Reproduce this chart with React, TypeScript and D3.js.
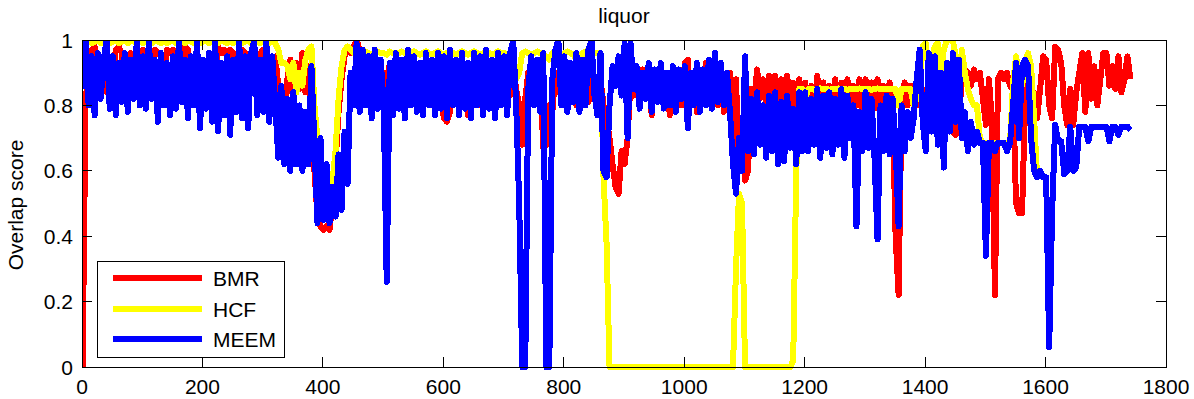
import React from "react";
import * as d3 from "d3";

const FRAME_STEP = 5;
const TITLE = "liquor";
const Y_LABEL = "Overlap score";
const SERIES_NAMES = ["BMR", "HCF", "MEEM"];
const SERIES_COLORS = ["#ff0000", "#ffff00", "#0000ff"];
const X_TICKS = [0, 200, 400, 600, 800, 1000, 1200, 1400, 1600, 1800];
const Y_TICKS = [0, 0.2, 0.4, 0.6, 0.8, 1];

const BMR = [
  0.0,0.82,0.90,0.97,0.98,0.86,0.85,0.88,0.84,0.87,0.86,0.97,0.98,0.96,0.85,0.87,0.96,0.95,0.84,0.86,
  0.97,0.85,0.86,0.84,0.97,0.96,0.95,0.86,0.97,0.96,0.97,0.95,0.84,0.88,0.98,0.97,0.86,0.85,0.87,0.84,
  0.86,0.88,0.96,0.95,0.85,0.98,0.96,0.97,0.95,0.97,0.96,0.85,0.86,0.97,0.96,0.85,0.87,0.84,0.86,0.96,
  0.97,0.96,0.85,0.88,0.95,0.86,0.73,0.72,0.88,0.94,0.83,0.93,0.85,0.96,0.84,0.92,0.73,0.60,0.46,0.43,
  0.42,0.43,0.42,0.50,0.62,0.78,0.88,0.95,0.97,0.96,0.98,1.0,0.97,0.86,0.92,0.84,0.90,0.82,0.88,0.83,
  0.90,0.82,0.93,0.80,0.91,0.82,0.94,0.81,0.90,0.83,0.92,0.80,0.93,0.82,0.91,0.80,0.92,0.83,0.90,0.81,
  0.76,0.75,0.78,0.90,0.82,0.93,0.80,0.92,0.77,0.90,0.82,0.93,0.80,0.91,0.83,0.92,0.80,0.90,0.82,0.93,
  0.81,0.90,0.83,0.92,0.85,0.80,0.68,0.82,0.90,0.83,0.91,0.82,0.88,0.67,0.68,0.80,0.78,0.90,0.84,0.92,
  0.82,0.91,0.83,0.90,0.80,0.92,0.82,0.90,0.81,0.93,0.84,0.77,0.88,0.80,0.76,0.70,0.62,0.55,0.53,0.66,
  0.62,0.70,0.88,0.83,0.90,0.79,0.91,0.82,0.89,0.77,0.90,0.81,0.92,0.80,0.88,0.77,0.90,0.82,0.89,0.80,
  0.93,0.94,0.80,0.88,0.78,0.90,0.82,0.93,0.92,0.79,0.90,0.80,0.89,0.78,0.88,0.90,0.70,0.88,0.60,0.75,
  0.57,0.60,0.85,0.80,0.91,0.82,0.88,0.80,0.89,0.79,0.89,0.81,0.88,0.78,0.89,0.80,0.87,0.79,0.88,0.82,
  0.87,0.79,0.86,0.80,0.89,0.78,0.87,0.80,0.86,0.78,0.88,0.73,0.87,0.80,0.88,0.79,0.86,0.80,0.88,0.78,
  0.88,0.80,0.87,0.79,0.88,0.80,0.86,0.78,0.87,0.80,0.40,0.22,0.82,0.87,0.80,0.86,0.82,0.87,0.80,0.85,
  0.80,0.74,0.72,0.85,0.80,0.88,0.82,0.86,0.78,0.72,0.71,0.76,0.88,0.91,0.90,0.86,0.91,0.88,0.90,0.82,
  0.74,0.88,0.75,0.22,0.88,0.90,0.88,0.90,0.86,0.85,0.50,0.47,0.47,0.80,0.87,0.78,0.84,0.76,0.85,0.95,
  0.94,0.80,0.76,0.98,0.97,0.93,0.80,0.74,0.85,0.74,0.84,0.90,0.96,0.78,0.96,0.82,0.92,0.80,0.88,0.96,
  0.96,0.86,0.92,0.85,0.95,0.84,0.88,0.95,0.88,
];

const HCF = [
  0.85,0.99,1.0,0.99,0.995,1.0,0.99,0.995,1.0,0.99,0.995,1.0,0.99,0.995,1.0,0.99,1.0,0.995,0.99,1.0,
  0.99,1.0,0.995,0.99,1.0,0.995,0.99,1.0,0.99,0.995,1.0,0.99,0.995,1.0,0.99,1.0,0.995,0.99,1.0,0.99,
  0.995,1.0,0.99,0.995,1.0,0.99,1.0,0.995,0.99,1.0,0.99,0.995,1.0,0.99,0.995,1.0,0.99,1.0,0.995,0.99,
  0.995,1.0,0.99,1.0,0.99,0.97,0.93,0.93,0.92,0.88,0.93,0.84,0.90,0.86,0.94,0.97,0.98,0.80,0.70,0.52,
  0.45,0.47,0.52,0.57,0.66,0.82,0.92,0.97,0.98,0.97,0.96,0.965,0.96,0.955,0.965,0.96,0.955,0.96,0.965,0.96,
  0.96,0.955,0.965,0.96,0.955,0.96,0.965,0.96,0.955,0.96,0.965,0.96,0.955,0.96,0.965,0.96,0.955,0.96,0.965,0.96,
  0.955,0.96,0.965,0.96,0.955,0.96,0.965,0.96,0.955,0.96,0.965,0.96,0.955,0.96,0.965,0.96,0.955,0.96,0.965,0.96,
  0.96,0.955,0.96,0.95,0.88,0.90,0.96,0.965,0.96,0.955,0.96,0.965,0.96,0.955,0.95,0.94,0.96,0.965,0.96,0.955,
  0.96,0.965,0.96,0.955,0.94,0.93,0.96,0.965,0.96,0.955,0.96,0.96,0.95,0.58,0.38,0,0,0,0,0,
  0,0,0,0,0,0,0,0,0,0,0,0,0,0,0,0,0,0,0,0,
  0,0,0,0,0,0,0,0,0,0,0,0,0,0,0,0,0,0.3,0.53,0.5,
  0,0,0,0,0,0,0,0,0,0,0,0,0,0,0,0,0.02,0.6,0.85,0.85,
  0.82,0.85,0.85,0.848,0.85,0.852,0.85,0.85,0.848,0.85,0.85,0.852,0.85,0.85,0.848,0.85,0.85,0.85,0.852,0.85,
  0.85,0.85,0.848,0.85,0.852,0.85,0.85,0.85,0.85,0.85,0.85,0.80,0.85,0.85,0.85,0.85,0.80,0.82,0.88,0.98,
  0.99,0.90,0.93,0.98,0.99,0.88,0.97,1.0,1.0,1.0,0.95,0.76,0.97,0.90,0.85,0.82,0.80,0.80,0.70,0.685,
  0.685,0.685,0.685,0.685,0.685,0.685,0.685,0.685,0.685,0.87,0.95,0.90,0.86,0.93,0.96,0.92,0.76,0.58,
];

const MEEM = [
  0.85,1.0,0.80,0.95,0.77,0.96,0.82,0.94,1.0,0.79,0.95,0.77,0.93,0.81,0.96,0.78,0.94,0.82,1.0,0.80,
  0.95,0.79,1.0,0.82,0.94,0.75,0.96,0.80,0.93,0.77,0.95,0.79,1.0,0.81,0.94,0.76,0.95,0.80,1.0,0.73,
  0.94,0.79,0.96,0.75,1.0,0.72,0.93,0.77,0.95,0.71,0.94,0.78,1.0,0.76,0.95,0.73,0.96,1.0,0.77,0.94,
  0.78,1.0,0.75,0.95,0.80,0.64,0.86,0.62,0.82,0.60,0.84,0.62,0.80,0.60,0.78,0.62,0.92,0.68,0.44,0.70,
  0.45,0.62,0.44,0.55,0.46,0.65,0.48,0.72,0.56,0.90,0.80,0.99,0.78,0.97,0.80,0.95,0.76,0.97,0.79,0.94,
  0.80,0.26,0.93,0.77,0.96,0.79,0.94,0.76,0.97,0.80,0.95,0.78,0.93,0.77,0.96,0.80,0.94,0.77,0.96,0.79,
  0.95,0.76,0.97,0.80,0.94,0.77,0.96,0.79,0.93,0.76,0.96,0.80,0.95,0.77,0.97,0.79,0.94,0.76,0.96,0.80,
  0.95,0.77,0.96,1.0,0.80,0.50,0.0,0.0,0.85,0.95,0.80,0.94,0.78,0.96,0.0,0.0,0.88,0.97,1.0,0.80,
  0.95,0.78,0.93,0.81,0.96,0.78,0.94,0.80,0.97,1.0,0.83,0.77,0.96,0.60,0.58,0.80,0.92,0.86,0.95,0.83,
  0.99,0.70,0.99,0.85,0.92,0.79,0.90,0.82,0.93,0.78,0.91,0.81,0.93,0.79,0.90,0.80,0.92,0.78,0.91,0.82,
  0.92,0.73,0.90,0.80,0.93,0.78,0.91,0.80,0.94,0.79,0.96,0.81,0.93,0.80,0.90,0.78,0.62,0.53,0.70,0.60,
  0.95,0.66,0.82,0.65,0.84,0.68,0.80,0.64,0.83,0.66,0.84,0.62,0.81,0.63,0.83,0.67,0.79,0.62,0.84,0.66,
  0.84,0.66,0.82,0.68,0.85,0.64,0.83,0.67,0.84,0.65,0.82,0.68,0.85,0.64,0.83,0.70,0.80,0.43,0.78,0.66,
  0.84,0.67,0.82,0.64,0.39,0.80,0.66,0.83,0.65,0.82,0.68,0.43,0.80,0.66,0.78,0.70,0.76,0.88,0.97,0.75,
  0.66,0.96,0.72,0.95,0.68,0.90,0.61,0.93,0.72,0.96,0.75,0.94,0.70,0.78,0.66,0.75,0.68,0.72,0.685,0.685,
  0.34,0.685,0.685,0.66,0.685,0.685,0.685,0.66,0.685,0.80,0.93,0.70,0.92,0.94,0.92,0.70,0.60,0.58,0.60,0.58,
  0.58,0.06,0.48,0.74,0.69,0.69,0.59,0.60,0.735,0.60,0.61,0.735,0.735,0.735,0.69,0.735,0.735,0.735,0.735,0.735,
  0.735,0.69,0.735,0.735,0.71,0.735,0.735,0.735,0.725,
];

const SERIES = [BMR, HCF, MEEM];

const W = 1194;
const H = 399;
const M = { left: 82, right: 1166, top: 40, bottom: 367 };
const FONT = "'Liberation Sans', Arial, Helvetica, sans-serif";
const FS = 21;

export default function App() {
  const x = d3.scaleLinear().domain([0, 1800]).range([M.left, M.right]);
  const y = d3.scaleLinear().domain([0, 1]).range([M.bottom, M.top]);
  const line = d3
    .line<number>()
    .x((_, i) => x(1 + i * FRAME_STEP))
    .y((d) => y(d));

  const tickLen = 10;
  const legendLinesY = [278, 309, 339];

  return (
    <svg
      width={W}
      height={H}
      style={{ position: "absolute", left: 0, top: 0, background: "#fff" }}
      fontFamily={FONT}
    >
      <defs>
        <clipPath id="plotclip">
          <rect x={M.left} y={M.top} width={M.right - M.left} height={M.bottom - M.top + 3} />
        </clipPath>
      </defs>
      <rect x={0} y={0} width={W} height={H} fill="#fff" />
      <g clipPath="url(#plotclip)">
        {SERIES.map((s, k) => (
          <path
            key={k}
            d={line(s) || ""}
            fill="none"
            stroke={SERIES_COLORS[k]}
            strokeWidth={6}
            strokeLinejoin="round"
            shapeRendering="crispEdges"
          />
        ))}
      </g>
      <rect
        x={M.left}
        y={M.top}
        width={M.right - M.left}
        height={M.bottom - M.top}
        fill="none"
        stroke="#000"
        strokeWidth={1}
        shapeRendering="crispEdges"
      />
      {X_TICKS.map((t) => (
        <g key={"x" + t}>
          <line x1={x(t)} x2={x(t)} y1={M.bottom} y2={M.bottom - tickLen} stroke="#000" shapeRendering="crispEdges" />
          <line x1={x(t)} x2={x(t)} y1={M.top} y2={M.top + tickLen} stroke="#000" shapeRendering="crispEdges" />
          <text x={x(t)} y={394} textAnchor="middle" fontSize={FS} fill="#000">
            {t}
          </text>
        </g>
      ))}
      {Y_TICKS.map((t) => (
        <g key={"y" + t}>
          <line x1={M.left} x2={M.left + tickLen} y1={y(t)} y2={y(t)} stroke="#000" shapeRendering="crispEdges" />
          <line x1={M.right} x2={M.right - tickLen} y1={y(t)} y2={y(t)} stroke="#000" shapeRendering="crispEdges" />
          <text x={73} y={y(t) + 7.5} textAnchor="end" fontSize={FS} fill="#000">
            {String(t)}
          </text>
        </g>
      ))}
      <text x={(M.left + M.right) / 2} y={23} textAnchor="middle" fontSize={FS} fill="#000">
        {TITLE}
      </text>
      <text transform={`translate(23,205) rotate(-90)`} textAnchor="middle" fontSize={FS} fill="#000">
        {Y_LABEL}
      </text>
      <rect x={97.5} y={261.5} width={187} height={96} fill="#fff" stroke="#000" strokeWidth={1} />
      {SERIES_NAMES.map((n, k) => (
        <g key={n}>
          <line
            x1={113}
            x2={202}
            y1={legendLinesY[k]}
            y2={legendLinesY[k]}
            stroke={SERIES_COLORS[k]}
            strokeWidth={6}
            shapeRendering="crispEdges"
          />
          <text x={213} y={legendLinesY[k] + 8} fontSize={FS} fill="#000">
            {n}
          </text>
        </g>
      ))}
    </svg>
  );
}
